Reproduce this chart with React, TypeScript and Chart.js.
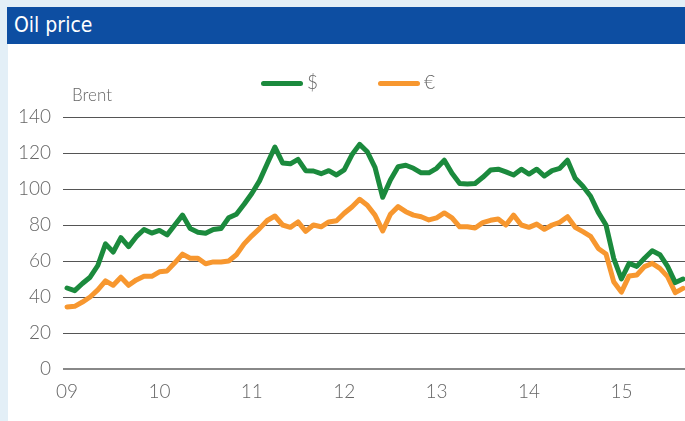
import React, { useEffect, useRef } from "react";
import { Chart, registerables } from "chart.js";

Chart.register(...registerables);

const title = "Oil price";
const unitLabel = "Brent";
const yearLabels = ["09", "10", "11", "12", "13", "14", "15"];
const seriesNames = ["$", "€"];

// Monthly Brent price, Jan 2009 – Sep 2015
const usd = [
  45, 43.5, 47.5, 51, 57.5, 69.5, 65, 73, 68, 73.5, 77.5, 75.5,
  77, 74.5, 80, 85.5, 78, 76, 75.4, 77.5, 78, 84, 86, 91.5,
  97.5, 104.5, 114, 123.3, 114.5, 114, 116.5, 110.2, 110, 108.5, 110.2, 107.8,
  110.6, 119, 124.8, 120.7, 112, 95.4, 105, 112.4, 113.2, 111.5, 109, 109,
  111.5, 116, 108.7, 103.1, 102.8, 103.1, 106.5, 110.5, 111, 109.5, 107.8, 111,
  108.3, 111, 107.2, 110.2, 111.5, 116, 106, 101.5, 96, 87, 80, 61.5,
  50, 58.7, 57, 61.5, 65.7, 63.5, 57, 48, 50,
];
const eur = [
  34.5, 34.8, 37.2, 40, 44, 49, 46.5, 51, 46.5, 49.5, 51.5, 51.5,
  54, 54.5, 59, 63.8, 61.5, 61.5, 58.5, 59.5, 59.5, 60, 63.5, 69.5,
  74, 78, 82.5, 85, 80, 78.7, 81.7, 76.5, 80, 79, 81.7, 82.4,
  86.5, 90, 94.3, 91, 85.5, 76.7, 86, 90.2, 87.4, 85.5, 84.6, 82.8,
  84, 86.7, 84, 79, 79, 78.3, 81.3, 82.6, 83.3, 80, 85.5, 80,
  78.7, 80.5, 77.6, 80, 81.5, 84.6, 78.7, 76.3, 73.7, 67, 63.9, 48.5,
  42.7, 51.7, 52.2, 56.9, 58.7, 55.9, 51.3, 42.4, 44.8,
];
const yTicks = [0, 20, 40, 60, 80, 100, 120, 140];

const GREEN = "#1b8a3d";
const ORANGE = "#f7972f";
const TXT = "#666666";
const FONT = "Lato, 'Open Sans', sans-serif";

export default function App() {
  const ref = useRef<HTMLCanvasElement>(null);

  useEffect(() => {
    const canvas = ref.current;
    if (!canvas) return;
    const chart = new Chart(canvas, {
      type: "line",
      data: {
        datasets: [
          {
            label: seriesNames[0],
            data: usd.map((y, i) => ({ x: i, y })),
            borderColor: GREEN,
            borderWidth: 5,
            pointRadius: 0,
            tension: 0,
            borderJoinStyle: "round",
            borderCapStyle: "round",
            fill: false,
          },
          {
            label: seriesNames[1],
            data: eur.map((y, i) => ({ x: i, y })),
            borderColor: ORANGE,
            borderWidth: 5,
            pointRadius: 0,
            tension: 0,
            borderJoinStyle: "round",
            borderCapStyle: "round",
            fill: false,
          },
        ],
      },
      options: {
        responsive: false,
        animation: false,
        maintainAspectRatio: false,
        layout: { padding: { top: 73, right: 0, bottom: 0, left: 0 } },
        plugins: {
          legend: { display: false },
          tooltip: { enabled: false },
        },
        scales: {
          x: {
            type: "linear",
            min: -0.52,
            max: 80.26,
            afterBuildTicks: (s: any) => {
              s.ticks = yearLabels.map((_, i) => ({ value: i * 12 }));
            },
            afterFit: (s: any) => {
              s.height = 52;
            },
            ticks: {
              autoSkip: false,
              maxRotation: 0,
              padding: 11,
              color: TXT,
              font: { family: FONT, size: 19, weight: "300" },
              callback: (v: any) => yearLabels[Math.round(Number(v) / 12)] ?? "",
            },
            grid: { display: false, drawTicks: false },
            border: { display: false },
          },
          y: {
            min: 0,
            max: 140,
            afterBuildTicks: (s: any) => {
              s.ticks = yTicks.map((v) => ({ value: v }));
            },
            afterFit: (s: any) => {
              s.width = 55;
            },
            ticks: {
              padding: 12,
              color: TXT,
              font: { family: FONT, size: 19, weight: "300" },
            },
            grid: {
              drawTicks: false,
              color: (c: any) => (c.tick && c.tick.value === 0 ? "#888888" : "#555555"),
              lineWidth: (c: any) => (c.tick && c.tick.value === 0 ? 2 : 1),
            },
            border: { display: false },
          },
        },
      },
    });
    return () => chart.destroy();
  }, []);

  return (
    <div
      style={{
        position: "fixed",
        left: 0,
        top: 0,
        width: 685,
        height: 421,
        background: "#e3eff7",
        overflow: "hidden",
      }}
    >
      <div
        style={{
          position: "absolute",
          left: 7,
          top: 7,
          width: 678,
          height: 37,
          background: "#0d4ea2",
          color: "#ffffff",
          fontFamily: "'Liberation Sans Narrow', 'DejaVu Sans Condensed', sans-serif",
          fontSize: 21,
          lineHeight: "37px",
          paddingLeft: 7,
          boxSizing: "border-box",
        }}
      >
        {title}
      </div>
      <div
        style={{
          position: "absolute",
          left: 8,
          top: 44,
          width: 677,
          height: 377,
          background: "#ffffff",
        }}
      >
        <canvas ref={ref} width={677} height={377} style={{ display: "block" }} />
        <div
          style={{
            position: "absolute",
            left: 64,
            top: 40,
            fontFamily: FONT,
            fontWeight: 300,
            fontSize: 17,
            color: TXT,
          }}
        >
          {unitLabel}
        </div>
        <div style={{ position: "absolute", left: 253, top: 37, width: 42, height: 5, borderRadius: 3, background: GREEN }} />
        <div
          style={{ position: "absolute", left: 299, top: 26, fontFamily: FONT, fontWeight: 300, fontSize: 19, color: TXT }}
        >
          {seriesNames[0]}
        </div>
        <div style={{ position: "absolute", left: 370, top: 37, width: 42, height: 5, borderRadius: 3, background: ORANGE }} />
        <div
          style={{ position: "absolute", left: 416, top: 26, fontFamily: FONT, fontWeight: 300, fontSize: 19, color: TXT }}
        >
          {seriesNames[1]}
        </div>
      </div>
    </div>
  );
}
